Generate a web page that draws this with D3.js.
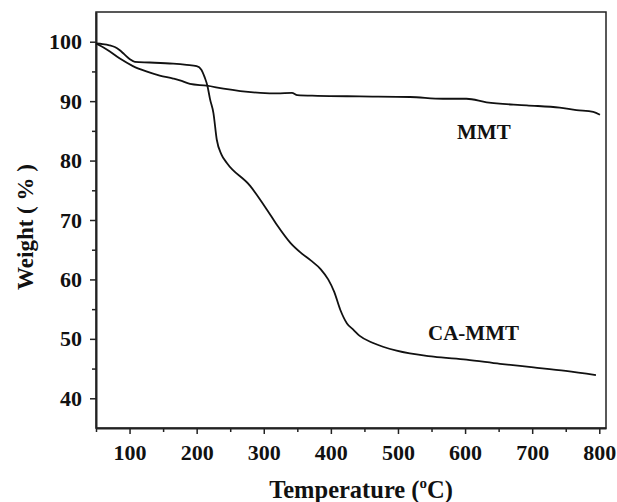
<!DOCTYPE html>
<html>
<head>
<meta charset="utf-8">
<script src="https://cdn.jsdelivr.net/npm/d3@7"></script>
<style>
  body { margin: 0; background: #fff; }
  text { font-family: "Liberation Serif", "Times New Roman", serif; font-weight: bold; fill: #111; }
</style>
</head>
<body>
<script>
// TGA curves
const mmtTemp = [50, 66, 85, 105, 125, 145, 165, 175, 190, 215, 240, 265, 295, 320, 342, 350, 380, 443, 518, 567, 602, 632, 692, 741, 766, 791, 801];
const mmtWeight = [99.7, 98.7, 97.2, 95.9, 95.0, 94.3, 93.8, 93.5, 92.9, 92.6, 92.1, 91.7, 91.4, 91.3, 91.4, 91.0, 90.9, 90.8, 90.7, 90.4, 90.4, 89.8, 89.3, 88.9, 88.5, 88.2, 87.7];

const camTemp = [50, 60, 70, 78, 85, 92, 100, 108, 130, 165, 185, 200, 207, 212, 216, 220, 225, 230, 237, 245, 280, 305, 320, 340, 355, 370, 385, 396, 405, 414, 424, 433, 443, 463, 498, 553, 602, 652, 702, 750, 795];
const camWeight = [99.7, 99.6, 99.4, 99.1, 98.6, 97.9, 97.1, 96.6, 96.5, 96.3, 96.1, 95.9, 95.3, 94.0, 92.6, 90.3, 88.0, 83.5, 81.0, 79.6, 75.7, 71.7, 69.1, 66.1, 64.5, 63.2, 61.7, 60.0, 57.9, 54.9, 52.6, 51.6, 50.5, 49.3, 48.0, 47.0, 46.5, 45.8, 45.2, 44.6, 43.9];

const xTicks = [100, 200, 300, 400, 500, 600, 700, 800];
const yTicks = [40, 50, 60, 70, 80, 90, 100];
const xMinor = [50, 150, 250, 350, 450, 550, 650, 750];
const yMinor = [45, 55, 65, 75, 85, 95];

const W = 617, H = 502;
const plot = { left: 96, right: 606, top: 12, bottom: 428 };

const svg = d3.select("body").append("svg")
    .attr("width", W)
    .attr("height", H);

const x = d3.scaleLinear().domain([50, 810]).range([plot.left, plot.right]);
const y = d3.scaleLinear().domain([35, 105]).range([plot.bottom, plot.top]);

// frame (top / right)
svg.append("rect")
    .attr("x", plot.left).attr("y", plot.top)
    .attr("width", plot.right - plot.left)
    .attr("height", plot.bottom - plot.top)
    .attr("fill", "none")
    .attr("stroke", "#222")
    .attr("stroke-width", 1.5);

// minor ticks
svg.append("g")
    .attr("transform", `translate(0,${plot.bottom})`)
    .call(d3.axisBottom(x).tickValues(xMinor).tickSize(4).tickFormat(""))
    .call(g => g.select(".domain").remove())
    .selectAll("line").attr("stroke", "#222").attr("stroke-width", 1.5);

svg.append("g")
    .attr("transform", `translate(${plot.left},0)`)
    .call(d3.axisLeft(y).tickValues(yMinor).tickSize(4).tickFormat(""))
    .call(g => g.select(".domain").remove())
    .selectAll("line").attr("stroke", "#222").attr("stroke-width", 1.5);

// main axes
const xAxis = svg.append("g")
    .attr("transform", `translate(0,${plot.bottom})`)
    .call(d3.axisBottom(x).tickValues(xTicks).tickSize(6).tickSizeOuter(0).tickPadding(10));

const yAxis = svg.append("g")
    .attr("transform", `translate(${plot.left},0)`)
    .call(d3.axisLeft(y).tickValues(yTicks).tickSize(6).tickSizeOuter(0).tickPadding(8));

[xAxis, yAxis].forEach(a => {
  a.select(".domain").attr("stroke", "#222").attr("stroke-width", 2);
  a.selectAll(".tick line").attr("stroke", "#222").attr("stroke-width", 1.5);
  a.selectAll(".tick text")
      .attr("fill", "#111")
      .style("font-family", '"Liberation Serif", serif')
      .style("font-weight", "bold")
      .style("font-size", "22px");
});

// curves
const line = d3.line()
    .x(d => x(d[0]))
    .y(d => y(d[1]))
    .curve(d3.curveMonotoneX);

svg.append("path")
    .datum(d3.zip(mmtTemp, mmtWeight))
    .attr("d", line)
    .attr("fill", "none")
    .attr("stroke", "#111")
    .attr("stroke-width", 1.8);

svg.append("path")
    .datum(d3.zip(camTemp, camWeight))
    .attr("d", line)
    .attr("fill", "none")
    .attr("stroke", "#111")
    .attr("stroke-width", 1.8);

// curve labels
svg.append("text")
    .attr("x", 457).attr("y", 139)
    .style("font-size", "21px")
    .text("MMT");

svg.append("text")
    .attr("x", 428).attr("y", 340)
    .style("font-size", "21px")
    .text("CA-MMT");

// axis titles
const xt = svg.append("text")
    .attr("x", 361).attr("y", 498)
    .attr("text-anchor", "middle")
    .style("font-size", "24.5px")
    .text("Temperature (");
xt.append("tspan").attr("dy", -10).style("font-size", "15px").text("o");
xt.append("tspan").attr("dy", 10).text("C)");

svg.append("text")
    .attr("transform", "translate(33,227) rotate(-90)")
    .attr("text-anchor", "middle")
    .style("font-size", "23px")
    .text("Weight ( % )");
</script>
</body>
</html>
